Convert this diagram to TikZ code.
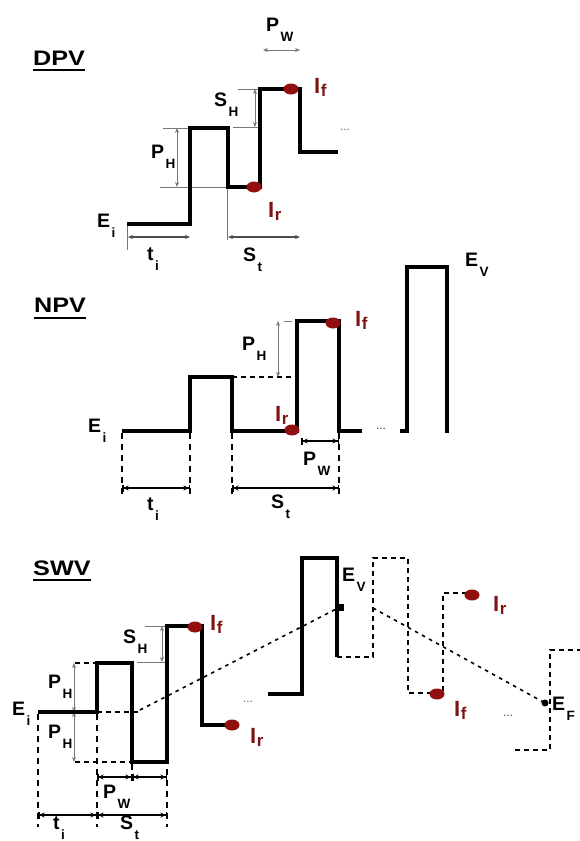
\documentclass[tikz,border=0pt]{standalone}
\usepackage{fontspec}
\setmainfont{Liberation Sans}
\usepackage{graphicx}
\usetikzlibrary{arrows.meta,shapes.geometric}
\definecolor{dotred}{RGB}{145,15,15}
\definecolor{labred}{RGB}{125,20,20}
\definecolor{guidegray}{RGB}{120,120,120}
% widened heading lettering
\newcommand\stretchx[1]{\scalebox{1.2}[1]{#1}}
% black symbol with a deep subscript
\newcommand\blab[2]{#1\kern1.5pt\raisebox{-10pt}{\fontsize{13.5}{13.5}\selectfont #2}}
% red current symbol with a shallow subscript
\newcommand\rlab[2]{#1\kern0.5pt\raisebox{-3pt}{\fontsize{17}{17}\selectfont #2}}
\tikzset{
  lbl/.style={inner sep=0pt, anchor=base west, font=\bfseries\fontsize{19.5}{19.5}\selectfont},
  rlbl/.style={lbl, text=labred, font=\bfseries\fontsize{22}{22}\selectfont},
  head/.style={lbl, font=\bfseries\fontsize{21}{21}\selectfont},
  uline/.style={line width=2pt},
  wave/.style={line width=3.6pt},
  ghost/.style={line width=1.8pt, dash pattern=on 5pt off 4pt},
  trend/.style={line width=1.6pt, dash pattern=on 3.5pt off 4.5pt},
  vguide/.style={line width=2pt, dash pattern=on 6pt off 5pt},
  guide/.style={guidegray, line width=0.7pt},
  gdim/.style={guidegray, line width=0.9pt, {Stealth[length=5pt,width=4pt]}-{Stealth[length=5pt,width=4pt]}},
  ddim/.style={black!70, line width=1.1pt, {Stealth[length=5pt,width=4pt]}-{Stealth[length=5pt,width=4pt]}},
  kdim/.style={line width=1.5pt, {Bar[width=7pt]Stealth[length=5pt,width=5pt]}-{Stealth[length=5pt,width=5pt]Bar[width=7pt]}},
  peak/.style={ellipse, fill=dotred, minimum width=15pt, minimum height=11pt, inner sep=0pt},
  more/.style={inner sep=0pt, font=\fontsize{12}{12}\selectfont, text=black!60},
  potdot/.style={circle, fill=black, minimum size=7pt, inner sep=0pt},
}
\begin{document}
\begin{tikzpicture}[x=1pt, y=-1pt]
\useasboundingbox (0,0) rectangle (580,841);

% ---------------- DPV ----------------
\node[head] (tdpv) at (33,65) {\stretchx{DPV}};
\draw[uline] ([yshift=-5pt]tdpv.base west) -- ([yshift=-5pt]tdpv.base east);
\draw[guide] (163,128) -- (190,128);
\draw[guide] (160,187) -- (228,187);
\draw[guide] (238,89) -- (260,89);
\draw[guide] (233,127) -- (260,127);
\draw[guide] (127,224) -- (127,250);
\draw[guide] (227,187) -- (227,240);
\draw[wave] (127,224) -- (190,224) -- (190,128) -- (228,128) -- (228,187)
  -- (260,187) -- (260,89) -- (300,89) -- (300,152) -- (338,152);
\node[peak] (dr) at (254,187) {};
\node[peak] (df) at (291,89) {};
\draw[gdim] (177,128) -- (177,187);
\draw[gdim] (255,89) -- (255,127);
\draw[ddim] (128,237) -- (190,237);
\draw[ddim] (228,237) -- (300,237);
\draw[gdim] (263,50) -- (300,50);
\node[lbl] (dei) at (97,227) {\blab{E}{i}};
\node[lbl] (dti) at (147,260) {\blab{t}{i}};
\node[lbl] (dst) at (243,261) {\blab{S}{t}};
\node[lbl] (dph) at (151,158) {\blab{P}{H}};
\node[lbl] (dsh) at (214,106) {\blab{S}{H}};
\node[lbl] (dpw) at (266,31) {\blab{P}{W}};
\node[rlbl] (dif) at (314,93) {\rlab{I}{f}};
\node[rlbl] (dir) at (268,217) {\rlab{I}{r}};
\node[more] (dmore) at (345,130) {...};

% ---------------- NPV ----------------
\node[head] (tnpv) at (34,312) {\stretchx{NPV}};
\draw[uline] ([yshift=-6pt]tnpv.base west) -- ([yshift=-6pt]tnpv.base east);
\draw[ghost] (232,377) -- (297,377);
\draw[guide] (284,321) -- (292,321);
\draw[wave] (122,431) -- (190,431) -- (190,377) -- (232,377) -- (232,431)
  -- (297,431) -- (297,321) -- (339,321) -- (339,431) -- (362,431);
\draw[wave] (400,431) -- (407,431) -- (407,267) -- (447,267) -- (447,433);
\node[more, text=black!75] (nmore) at (381,429) {...};
\node[peak] (nf) at (333,323) {};
\node[peak] (nr) at (292,430) {};
\draw[gdim] (278,321) -- (278,377);
\foreach \x in {122,190,232,339} \draw[vguide] (\x,433) -- (\x,497);
\draw[kdim] (122,488) -- (190,488);
\draw[kdim] (232,488) -- (339,488);
\draw[kdim] (301,441) -- (339,441);
\node[lbl] (nei) at (88,432) {\blab{E}{i}};
\node[lbl] (nti) at (147,510) {\blab{t}{i}};
\node[lbl] (nst) at (271,508) {\blab{S}{t}};
\node[lbl] (nph) at (242,350) {\blab{P}{H}};
\node[lbl] (npw) at (303,465) {\blab{P}{W}};
\node[lbl] (nev) at (465,266) {\blab{E}{V}};
\node[rlbl] (nif) at (355,326) {\rlab{I}{f}};
\node[rlbl] (nir) at (275,421) {\rlab{I}{r}};

% ---------------- SWV ----------------
\node[head] (tswv) at (33,575) {\stretchx{SWV}};
\draw[uline] ([yshift=-5pt]tswv.base west) -- ([yshift=-5pt]tswv.base east);
% potential staircase trend
\draw[ghost] (97,712) -- (140,712);
\draw[trend] (140,710) -- (340,607);
\draw[trend] (373,608) -- (545,703);
% guides
\draw[ghost] (75,663) -- (97,663);
\draw[ghost] (75,762) -- (132,762);
\draw[guide] (145,626) -- (167,626);
\draw[guide] (137,662) -- (167,662);
\draw[gdim] (74,663) -- (74,712);
\draw[gdim] (74,712) -- (74,762);
\draw[gdim] (162,626) -- (162,662);
% waveform
\draw[wave] (38,712) -- (97,712) -- (97,663) -- (132,663) -- (132,762)
  -- (167,762) -- (167,626) -- (202,626) -- (202,725) -- (230,725);
\draw[wave] (268,694) -- (302,694) -- (302,558) -- (337,558) -- (337,657);
\draw[ghost] (337,657) -- (373,657) -- (373,558) -- (408,558) -- (408,693)
  -- (443,693) -- (443,593) -- (472,593);
\draw[ghost] (515,750) -- (550,750) -- (550,650) -- (580,650);
\node[peak] (sf) at (195,627) {};
\node[peak] (sr) at (232,725) {};
\node[peak] (sr2) at (472,595) {};
\node[peak] (sf2) at (437,694) {};
\node[potdot, rectangle] (evm) at (340,607) {};
\node[potdot] (efm) at (545,703) {};
% time axis guides
\foreach \x in {38,97,167} \draw[vguide] (\x,714) -- (\x,827);
\draw[vguide] (132,764) -- (132,782);
\draw[kdim] (97,777) -- (132,777);
\draw[kdim] (132,777) -- (167,777);
\draw[kdim] (38,815) -- (97,815);
\draw[kdim] (97,815) -- (167,815);
% labels
\node[lbl] (sei) at (12,715) {\blab{E}{i}};
\node[lbl] (sph1) at (48,688) {\blab{P}{H}};
\node[lbl] (sph2) at (48,738) {\blab{P}{H}};
\node[lbl] (ssh) at (123,643) {\blab{S}{H}};
\node[lbl] (spw) at (103,798) {\blab{P}{W}};
\node[lbl] (sti) at (53,829) {\blab{t}{i}};
\node[lbl] (sst) at (120,829) {\blab{S}{t}};
\node[lbl] (sev) at (342,581) {\blab{E}{V}};
\node[lbl] (sef) at (552,710) {\blab{E}{F}};
\node[rlbl] (sif) at (210,630) {\rlab{I}{f}};
\node[rlbl] (sir) at (250,743) {\rlab{I}{r}};
\node[rlbl] (sir2) at (493,611) {\rlab{I}{r}};
\node[rlbl] (sif2) at (454,716) {\rlab{I}{f}};
\node[more] (smore) at (248,702) {...};
\node[more, text=black!75] (smore2) at (508,716) {...};
\end{tikzpicture}
\end{document}
